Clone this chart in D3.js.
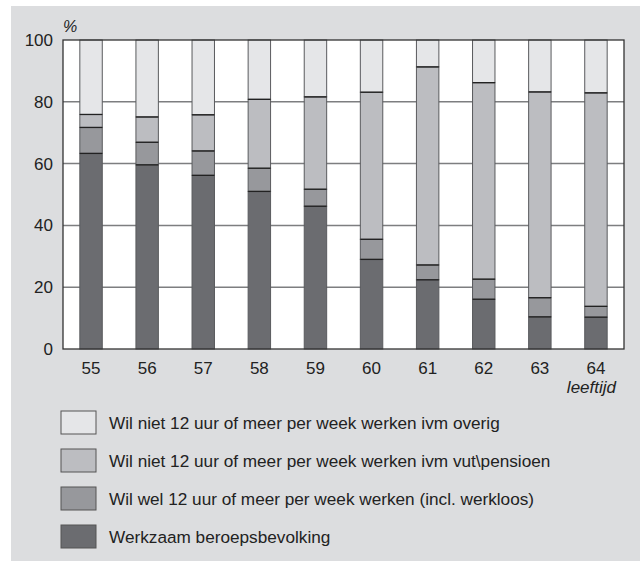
<!DOCTYPE html>
<html>
<head>
<meta charset="utf-8">
<script src="https://cdn.jsdelivr.net/npm/d3@7"></script>
<style>
  body { margin: 0; background: #fff; }
  svg { display: block; font-family: "Liberation Sans", Arial, sans-serif; }
</style>
</head>
<body>
<div id="wrapper"></div>
<script>
// leeftijden
const ages = ["55", "56", "57", "58", "59", "60", "61", "62", "63", "64"]

// percentages per groep (onder naar boven)
const werkzaam = [63.3, 59.6, 56.2, 51.0, 46.2, 29.0, 22.4, 16.1, 10.4, 10.3]
const wilWel   = [8.4, 7.3, 7.9, 7.5, 5.5, 6.5, 4.8, 6.5, 6.2, 3.5]
const vut      = [4.2, 8.2, 11.7, 22.3, 29.9, 47.6, 64.1, 63.6, 66.6, 69.1]
const overig   = [24.1, 24.9, 24.2, 19.2, 18.4, 16.9, 8.7, 13.8, 16.8, 17.1]

const yTicks = [0, 20, 40, 60, 80, 100]

const seriesNames = [
  "Werkzaam beroepsbevolking",
  "Wil wel 12 uur of meer per week werken (incl. werkloos)",
  "Wil niet 12 uur of meer per week werken ivm vut\\pensioen",
  "Wil niet 12 uur of meer per week werken ivm overig",
]
const colors = ["#6b6c70", "#97989c", "#bcbdc1", "#e5e6e8"]

function drawChart() {
  const width = 640
  const height = 561
  const margin = { top: 40, right: 16, left: 63 }
  const boundedWidth = width - margin.left - margin.right
  const boundedHeight = 309

  const svg = d3.select("#wrapper")
    .append("svg")
      .attr("width", width)
      .attr("height", height)

  // grijze achtergrond
  svg.append("rect")
    .attr("x", 11).attr("y", 6)
    .attr("width", width - 11).attr("height", height - 6)
    .attr("fill", "#dcdddf")

  const bounds = svg.append("g")
    .attr("transform", `translate(${margin.left},${margin.top})`)

  const table = ages.map((a, i) => ({
    age: a,
    s0: werkzaam[i], s1: wilWel[i], s2: vut[i], s3: overig[i],
  }))
  const keys = ["s0", "s1", "s2", "s3"]
  const stacked = d3.stack().keys(keys)(table)

  const xScale = d3.scaleBand()
    .domain(ages)
    .range([0, boundedWidth])
    .paddingInner(0.6)
    .paddingOuter(0.3)

  const yScale = d3.scaleLinear()
    .domain([0, 100])
    .range([boundedHeight, 0])

  // plot achtergrond
  bounds.append("rect")
    .attr("width", boundedWidth)
    .attr("height", boundedHeight)
    .attr("fill", "#fff")

  // rasterlijnen
  bounds.append("g")
    .selectAll("line")
    .data(yTicks.filter(d => d > 0 && d < 100))
    .join("line")
      .attr("x1", 0).attr("x2", boundedWidth)
      .attr("y1", d => yScale(d)).attr("y2", d => yScale(d))
      .attr("stroke", "#7d7e80")
      .attr("stroke-width", 1.5)

  // staven
  bounds.append("g")
    .selectAll("g")
    .data(stacked)
    .join("g")
      .attr("fill", (d, i) => colors[i])
    .selectAll("rect")
    .data(d => d)
    .join("rect")
      .attr("x", d => xScale(d.data.age))
      .attr("width", xScale.bandwidth())
      .attr("y", d => yScale(d[1]))
      .attr("height", d => yScale(d[0]) - yScale(d[1]))
      .attr("stroke", "#5a5b5e")
      .attr("stroke-width", 1)

  // scheidingslijnen tussen segmenten
  bounds.append("g")
    .selectAll("line")
    .data(stacked.slice(0, 3).flatMap(s => s.map(d => d)))
    .join("line")
      .attr("x1", d => xScale(d.data.age))
      .attr("x2", d => xScale(d.data.age) + xScale.bandwidth())
      .attr("y1", d => yScale(d[1])).attr("y2", d => yScale(d[1]))
      .attr("stroke", "#222")
      .attr("stroke-width", 1.3)

  // kader
  bounds.append("rect")
    .attr("width", boundedWidth)
    .attr("height", boundedHeight)
    .attr("fill", "none")
    .attr("stroke", "#333")
    .attr("stroke-width", 1.3)

  // y-as labels
  bounds.append("g")
    .selectAll("text")
    .data(yTicks)
    .join("text")
      .attr("x", -10)
      .attr("y", d => yScale(d))
      .attr("dy", "0.35em")
      .attr("text-anchor", "end")
      .attr("font-size", 17)
      .attr("fill", "#222")
      .text(d => d)

  // x-as labels
  bounds.append("g")
    .selectAll("text")
    .data(ages)
    .join("text")
      .attr("x", d => xScale(d) + xScale.bandwidth() / 2)
      .attr("y", boundedHeight + 25)
      .attr("text-anchor", "middle")
      .attr("font-size", 17)
      .attr("fill", "#222")
      .text(d => d)

  bounds.append("text")
    .attr("x", boundedWidth - 8)
    .attr("y", boundedHeight + 44)
    .attr("text-anchor", "end")
    .attr("font-size", 17)
    .attr("font-style", "italic")
    .attr("fill", "#222")
    .text("leeftijd")

  bounds.append("text")
    .attr("x", 0)
    .attr("y", -8)
    .attr("font-size", 16)
    .attr("font-style", "italic")
    .attr("fill", "#222")
    .text("%")

  // legenda
  const legendOrder = [3, 2, 1, 0]
  const legend = svg.append("g")
    .selectAll("g")
    .data(legendOrder)
    .join("g")
      .attr("transform", (d, i) => `translate(61,${411 + i * 38})`)

  legend.append("rect")
    .attr("width", 35)
    .attr("height", 23)
    .attr("fill", d => colors[d])
    .attr("stroke", "#555")
    .attr("stroke-width", 1)

  legend.append("text")
    .attr("x", 48)
    .attr("y", 18)
    .attr("font-size", 17.2)
    .attr("fill", "#222")
    .text(d => seriesNames[d])
}

drawChart()
</script>
</body>
</html>
